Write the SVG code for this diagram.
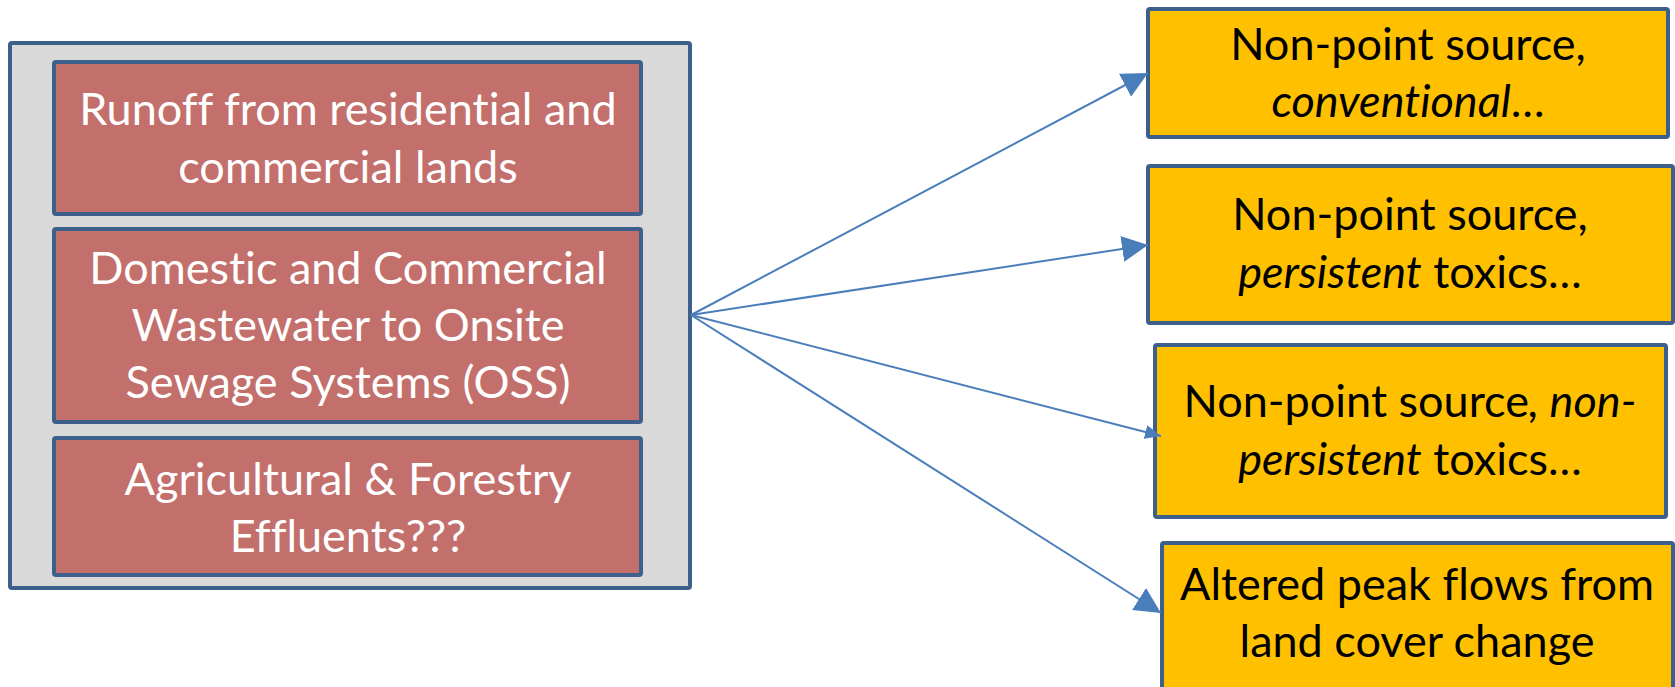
<svg xmlns="http://www.w3.org/2000/svg" width="1675" height="687" viewBox="0 0 1675 687">
<defs>
<style>
.outer{fill:#D9D9D9;stroke:#3D5F8C;stroke-width:4}
.red{fill:#C36F6C;stroke:#3D5F8C;stroke-width:4}
.yel{fill:#FFC000;stroke:#3D5F8C;stroke-width:4}
.tw{font-family:Lato,"Liberation Sans",sans-serif;font-size:45px;fill:#FFFFFF;text-anchor:middle;font-variant-ligatures:none;font-feature-settings:"liga" 0}
.tb{font-family:Lato,"Liberation Sans",sans-serif;font-size:45px;fill:#000000;text-anchor:middle;font-variant-ligatures:none;font-feature-settings:"liga" 0}
.it{font-style:italic}
.conn{stroke:#4A7EBB;stroke-width:2;fill:none}
</style>
<marker id="big" viewBox="0 0 26 26" markerWidth="26" markerHeight="26" refX="26" refY="13" orient="auto" markerUnits="userSpaceOnUse"><path d="M0,0 L26,13 L0,26 z" fill="#4A7EBB"/></marker>
<marker id="small" viewBox="0 0 16 14" markerWidth="16" markerHeight="14" refX="16" refY="7" orient="auto" markerUnits="userSpaceOnUse"><path d="M0,0 L16,7 L0,14 z" fill="#4A7EBB"/></marker>
</defs>
<rect width="1675" height="687" fill="#FFFFFF"/>
<g id="source-group">
<rect class="outer" x="10" y="43" width="680" height="545" rx="2"/>
<g id="runoff">
<rect class="red" x="54" y="62" width="587" height="152" rx="2"/>
<text class="tw" x="348" y="125">Runoff from residential and</text>
<text class="tw" x="348" y="183">commercial lands</text>
</g>
<g id="oss">
<rect class="red" x="54" y="229" width="587" height="193" rx="2"/>
<text class="tw" x="348" y="284">Domestic and Commercial</text>
<text class="tw" x="348" y="341">Wastewater to Onsite</text>
<text class="tw" x="348" y="398">Sewage Systems (OSS)</text>
</g>
<g id="agri">
<rect class="red" x="54" y="438" width="587" height="137" rx="2"/>
<text class="tw" x="348" y="495">Agricultural &amp; Forestry</text>
<text class="tw" x="348" y="552">Effluents???</text>
</g>
</g>
<g id="conventional">
<rect class="yel" x="1148" y="9" width="520" height="128" rx="2"/>
<text class="tb" x="1408" y="60">Non-point source,</text>
<text class="tb" x="1408" y="117"><tspan class="it">conventional</tspan>…</text>
</g>
<g id="persistent">
<rect class="yel" x="1148" y="166" width="525" height="157" rx="2"/>
<text class="tb" x="1410" y="230">Non-point source,</text>
<text class="tb" x="1410" y="288"><tspan class="it">persistent</tspan> toxics…</text>
</g>
<g id="nonpersistent">
<rect class="yel" x="1155" y="345" width="511" height="172" rx="2"/>
<text class="tb" x="1410" y="417">Non-point source<tspan class="it">, non-</tspan></text>
<text class="tb" x="1410" y="475"><tspan class="it">persistent</tspan> toxics…</text>
</g>
<g id="peakflows">
<rect class="yel" x="1162" y="543" width="511" height="150" rx="2"/>
<text class="tb" x="1417" y="600">Altered peak flows from</text>
<text class="tb" x="1417" y="657">land cover change</text>
</g>
<g id="connectors">
<line class="conn" x1="691" y1="315" x2="1148" y2="73" marker-end="url(#big)"/>
<line class="conn" x1="691" y1="315" x2="1148" y2="245" marker-end="url(#big)"/>
<line class="conn" x1="691" y1="315" x2="1161" y2="436" marker-end="url(#small)"/>
<line class="conn" x1="691" y1="315" x2="1161" y2="613" marker-end="url(#big)"/>
</g>
</svg>
